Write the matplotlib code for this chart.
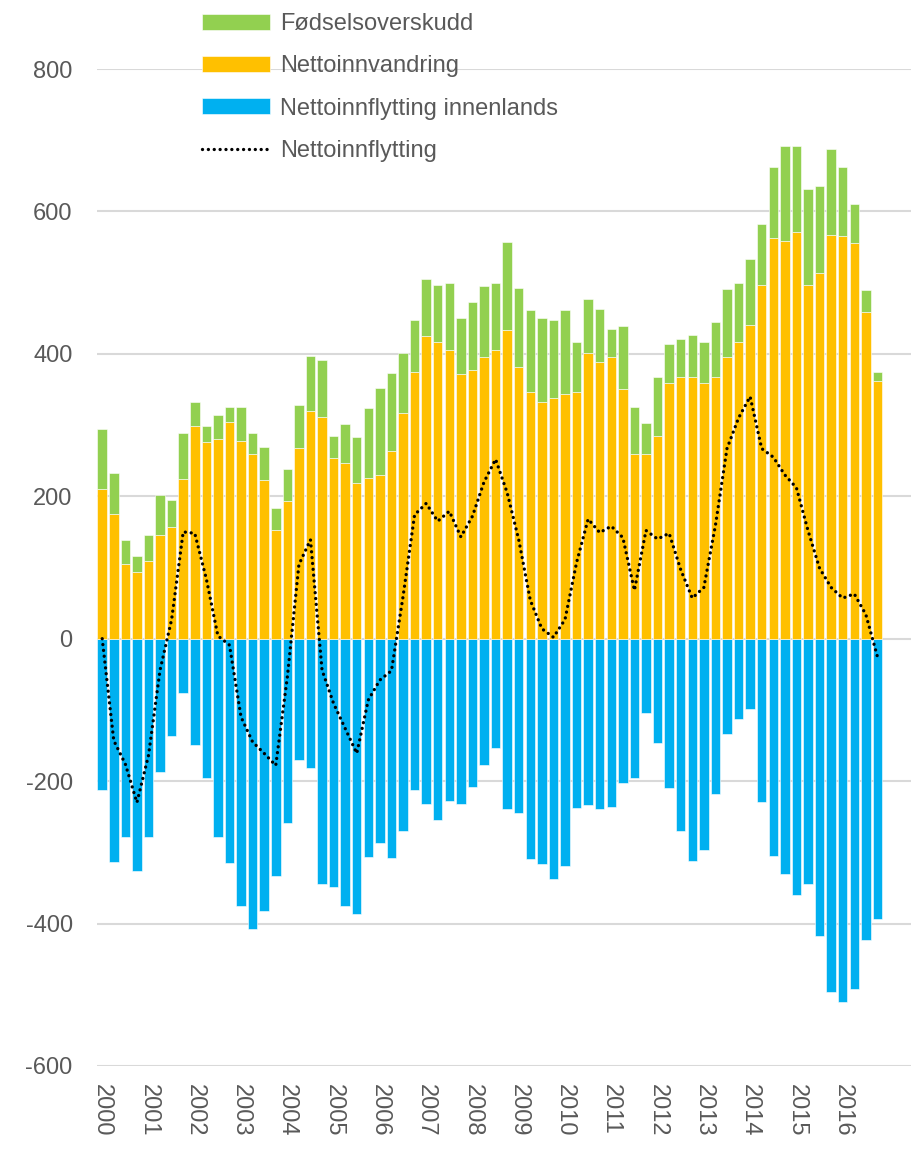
import matplotlib
matplotlib.use("Agg")
import matplotlib.pyplot as plt
import numpy as np

plt.rcParams['font.family'] = ['Liberation Sans', 'DejaVu Sans']

# quarterly values, 2000Q1 - 2016Q4
years = [str(y) for y in range(2000, 2017)]

nettoinnvandring = [210, 175, 105, 94, 109, 145, 157, 224,
                    298, 276, 281, 305, 278, 259, 223, 153,
                    193, 268, 320, 311, 254, 247, 218, 225,
                    230, 263, 317, 375, 425, 417, 406, 372,
                    378, 395, 406, 434, 382, 346, 333, 338,
                    343, 346, 401, 389, 395, 350, 260, 260,
                    284, 359, 367, 368, 359, 368, 396, 417,
                    441, 496, 562, 558, 571, 497, 514, 567,
                    565, 556, 459, 362]

fodselsoverskudd = [85, 57, 33, 22, 36, 57, 38, 65,
                    35, 23, 33, 20, 48, 30, 46, 30,
                    45, 60, 77, 81, 30, 54, 65, 99,
                    122, 110, 84, 73, 80, 80, 94, 78,
                    95, 100, 93, 123, 111, 115, 117, 110,
                    118, 71, 76, 74, 40, 89, 65, 43,
                    83, 55, 54, 59, 58, 77, 95, 82,
                    92, 86, 101, 134, 121, 135, 122, 121,
                    97, 55, 30, 13]

innenlands = [-213, -313, -279, -326, -279, -187, -136, -76,
              -149, -196, -279, -315, -376, -407, -382, -333,
              -259, -171, -182, -345, -349, -375, -387, -307,
              -287, -308, -270, -213, -232, -254, -228, -232,
              -208, -177, -154, -239, -245, -309, -317, -337,
              -319, -238, -233, -239, -237, -202, -196, -105,
              -147, -210, -270, -312, -296, -218, -134, -113,
              -98, -229, -305, -331, -360, -344, -418, -496,
              -510, -492, -423, -394]

nettoinnflytting = [0, -143, -176, -230, -164, -44, 27, 150,
                    148, 84, 4, -9, -110, -145, -161, -178,
                    -54, 104, 139, -44, -91, -126, -161, -86,
                    -58, -45, 59, 174, 190, 165, 179, 143,
                    172, 220, 252, 205, 139, 54, 14, 2,
                    27, 107, 168, 149, 158, 142, 68, 152,
                    140, 148, 97, 57, 72, 159, 267, 310,
                    340, 267, 255, 230, 212, 152, 99, 72,
                    57, 63, 34, -25]

green = '#92D050'
yellow = '#FFC000'
blue = '#00B0F0'
grey = '#595959'

x = np.arange(len(nettoinnvandring))
w = 0.82

fig = plt.figure(figsize=(9.12, 11.49), dpi=100)
ax = fig.add_axes([97 / 912, 83 / 1149, 815 / 912, 997 / 1149])

b_blue = ax.bar(x, innenlands, width=w, color=blue, edgecolor='white', linewidth=0.4, zorder=2)
b_yel = ax.bar(x, nettoinnvandring, width=w, color=yellow, edgecolor='white', linewidth=0.4, zorder=2)
b_grn = ax.bar(x, fodselsoverskudd, width=w, bottom=nettoinnvandring, color=green,
               edgecolor='white', linewidth=0.4, zorder=2)
ln, = ax.plot(x, nettoinnflytting, color='black', linestyle=(0, (0.01, 1.75)), linewidth=2.4,
              dash_capstyle='round', zorder=3)

ax.set_ylim(-600, 800)
ax.set_xlim(-0.45, (912 - 97) / 11.57 - 0.45)
ax.set_yticks(range(-600, 801, 200))
ax.set_yticklabels([str(v) for v in range(-600, 801, 200)])
ax.set_xticks(x[::4])
ax.set_xticklabels(years, rotation=270, va='top', ha='center')
ax.tick_params(axis='both', length=0, labelsize=17, colors=grey)
ax.tick_params(axis='x', pad=13)
ax.tick_params(axis='y', pad=17.5)
ax.grid(axis='y', color='#D9D9D9', linewidth=1.5, zorder=0)
ax.set_axisbelow(True)
for s in ax.spines.values():
    s.set_visible(False)

leg = fig.legend([b_grn, b_yel, b_blue, ln],
                 ['Fødselsoverskudd', 'Nettoinnvandring', 'Nettoinnflytting innenlands', 'Nettoinnflytting'],
                 loc='upper left', bbox_to_anchor=(202 / 912, 1 - 13 / 1149),
                 frameon=False, fontsize=17, labelcolor=grey,
                 handlelength=2.9, handleheight=0.66, handletextpad=0.42,
                 labelspacing=0.86, borderaxespad=0, borderpad=0)

fig.savefig('out.png', dpi=100)
